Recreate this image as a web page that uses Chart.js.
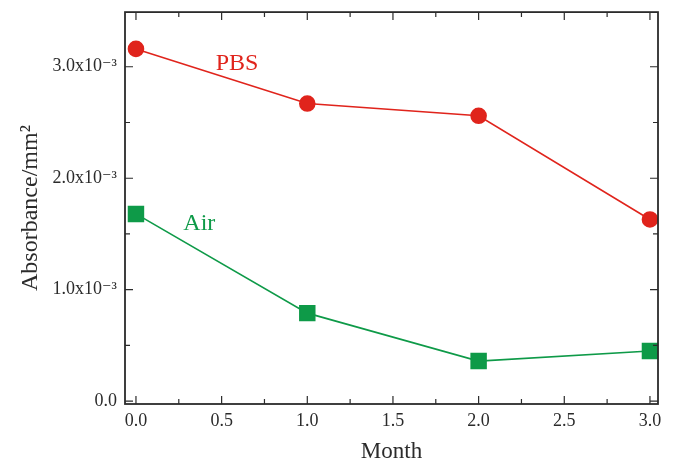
<!DOCTYPE html>
<html>
<head>
<meta charset="utf-8">
<script src="https://cdn.jsdelivr.net/npm/chart.js@4"></script>
<style>
  html, body { margin: 0; padding: 0; background: #fff; }
  #wrap { width: 673px; height: 466px; }
</style>
</head>
<body>
<div id="wrap"><canvas id="chart" width="673" height="466"></canvas></div>
<script>
    // values in units of 10^-3 absorbance/mm^2
    const months = [0, 1, 2, 3];
    const pbs = [3.16, 2.67, 2.56, 1.63];
    const air = [1.68, 0.79, 0.36, 0.45];

    const xMajor = [0, 0.5, 1, 1.5, 2, 2.5, 3];
    const xMinor = [0.25, 0.75, 1.25, 1.75, 2.25, 2.75];
    const yMajor = [0, 1, 2, 3];
    const yMinor = [0.5, 1.5, 2.5];

    const red = "#e0241c";
    const green = "#0e9a48";
    const ink = "#2b2b2b";
    const serif = "'Liberation Serif', 'DejaVu Serif', serif";

    // inner tick marks on all four sides + frame + series labels
    const framePlugin = {
        id: "frame",
        afterDatasetsDraw(chart) {
            const { ctx, chartArea: a, scales: { x, y } } = chart;
            ctx.save();
            ctx.strokeStyle = ink;
            ctx.lineWidth = 1.2;
            ctx.beginPath();
            xMajor.concat(xMinor).forEach(v => {
                const px = x.getPixelForValue(v);
                const len = xMajor.includes(v) ? 8 : 5;
                ctx.moveTo(px, a.bottom); ctx.lineTo(px, a.bottom - len);
                ctx.moveTo(px, a.top); ctx.lineTo(px, a.top + len);
            });
            yMajor.concat(yMinor).forEach(v => {
                const py = y.getPixelForValue(v);
                const len = yMajor.includes(v) ? 8 : 5;
                ctx.moveTo(a.left, py); ctx.lineTo(a.left + len, py);
                ctx.moveTo(a.right, py); ctx.lineTo(a.right - len, py);
            });
            ctx.stroke();
            ctx.lineWidth = 1.8;
            ctx.strokeRect(a.left, a.top, a.right - a.left, a.bottom - a.top);

            ctx.font = `24px ${serif}`;
            ctx.textAlign = "center";
            ctx.textBaseline = "middle";
            ctx.fillStyle = red;
            ctx.fillText("PBS", x.getPixelForValue(0.59), y.getPixelForValue(3.03));
            ctx.fillStyle = green;
            ctx.fillText("Air", x.getPixelForValue(0.37), y.getPixelForValue(1.59));
            ctx.restore();
        }
    };

    new Chart(document.querySelector("#chart"), {
        type: "line",
        data: {
            datasets: [
                {
                    label: "PBS",
                    data: months.map((m, i) => ({ x: m, y: pbs[i] })),
                    borderColor: red,
                    backgroundColor: red,
                    borderWidth: 1.6,
                    pointStyle: "circle",
                    pointRadius: 7.5,
                    pointHoverRadius: 7.5
                },
                {
                    label: "Air",
                    data: months.map((m, i) => ({ x: m, y: air[i] })),
                    borderColor: green,
                    backgroundColor: green,
                    borderWidth: 1.6,
                    pointStyle: "rect",
                    pointRadius: 10.5,
                    pointHoverRadius: 10.5
                }
            ]
        },
        options: {
            responsive: false,
            animation: false,
            events: [],
            clip: false,
            layout: { padding: { top: 10, right: 15, left: 16, bottom: 0 } },
            plugins: { legend: { display: false }, tooltip: { enabled: false } },
            scales: {
                x: {
                    type: "linear",
                    min: -0.064,
                    max: 3.047,
                    afterBuildTicks: s => { s.ticks = xMajor.map(v => ({ value: v })); },
                    afterFit: s => { s.height = 62; s.paddingLeft = 0; s.paddingRight = 0; },
                    grid: { display: false, drawTicks: false },
                    border: { display: false },
                    ticks: {
                        padding: 6,
                        color: ink,
                        font: { family: serif, size: 18 },
                        callback: v => v.toFixed(1)
                    },
                    title: {
                        display: true,
                        text: "Month",
                        color: ink,
                        padding: { top: 0, bottom: 0 },
                        font: { family: serif, size: 23 }
                    }
                },
                y: {
                    min: -0.025,
                    max: 3.49,
                    afterBuildTicks: s => { s.ticks = yMajor.map(v => ({ value: v })); },
                    afterFit: s => { s.width = 109; s.paddingTop = 0; s.paddingBottom = 0; },
                    grid: { display: false, drawTicks: false },
                    border: { display: false },
                    ticks: {
                        padding: 8,
                        color: ink,
                        font: { family: serif, size: 18 },
                        callback: v => v === 0 ? "0.0" : v.toFixed(1) + "x10\u207B\u00B3"
                    },
                    title: {
                        display: true,
                        text: "Absorbance/mm\u00B2",
                        color: ink,
                        padding: { top: 0, bottom: 4 },
                        font: { family: serif, size: 24 }
                    }
                }
            }
        },
        plugins: [framePlugin]
    });
</script>
</body>
</html>
